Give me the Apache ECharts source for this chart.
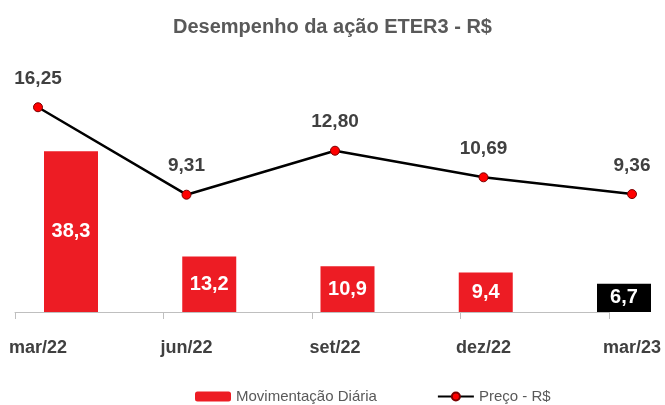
<!DOCTYPE html>
<html>
<head>
<meta charset="utf-8">
<script src="https://cdn.jsdelivr.net/npm/echarts@6/dist/echarts.min.js"></script>
<style>
  html, body { margin: 0; padding: 0; background: #fff; }
  #chart { width: 665px; height: 405px; }
</style>
</head>
<body>
<div id="chart"></div>
<script>
let periods = ["mar/22", "jun/22", "set/22", "dez/22", "mar/23"]
let movimentacao = [38.3, 13.2, 10.9, 9.4, 6.7]
let preco = [16.25, 9.31, 12.80, 10.69, 9.36]

// same bottom/top for all grids
let gTop = 60
let gBottom = 93

function fmt(v, d) {
  return Number(v).toFixed(d).replace(".", ",")
}

let myChart = echarts.init(document.getElementById("chart"))
let last = movimentacao.length - 1
let barData = movimentacao.map(function (v, i) {
  // last quarter highlighted in black
  return i === last ? { value: v, itemStyle: { color: "#000000" } } : v
})

let option = {
  animation: false,
  textStyle: { fontFamily: "Liberation Sans, Arial, sans-serif" },
  title: {
    text: "Desempenho da ação ETER3 - R$",
    left: "center",
    top: 12,
    textStyle: { color: "#595959", fontSize: 20, fontWeight: "bold" }
  },
  legend: {
    left: 190,
    top: 384,
    itemWidth: 36,
    itemHeight: 10,
    itemGap: 60,
    textStyle: { color: "#595959", fontSize: 15 },
    data: ["Movimentação Diária", "Preço - R$"]
  },
  grid: [
    // line + labels
    { left: 38, right: 33, top: gTop, bottom: gBottom },
    // bars
    { left: 71, right: 41, top: gTop, bottom: gBottom },
    // axis line with ticks
    { left: 15, right: 56, top: gTop, bottom: gBottom }
  ],
  xAxis: [
    {
      gridIndex: 0,
      type: "category",
      data: periods,
      boundaryGap: false,
      axisLine: { show: false },
      axisTick: { show: false },
      axisLabel: { color: "#404040", fontSize: 18, fontWeight: "bold", margin: 27 }
    },
    {
      gridIndex: 1,
      type: "category",
      data: periods,
      boundaryGap: false,
      show: false
    },
    {
      gridIndex: 2,
      type: "category",
      data: periods,
      boundaryGap: false,
      axisLine: { show: true, lineStyle: { color: "#bfbfbf", width: 1 } },
      axisTick: { show: true, length: 7, lineStyle: { color: "#bfbfbf" } },
      axisLabel: { show: false }
    }
  ],
  yAxis: [
    { gridIndex: 0, type: "value", min: 0, max: 20, show: false },
    { gridIndex: 1, type: "value", min: 0, max: 60, show: false },
    { gridIndex: 2, type: "value", min: 0, max: 1, show: false }
  ],
  series: [
    {
      name: "Movimentação Diária",
      type: "bar",
      xAxisIndex: 1,
      yAxisIndex: 1,
      barWidth: 54,
      itemStyle: { color: "#ED1C24" },
      label: {
        show: true,
        position: "inside",
        color: "#ffffff",
        fontSize: 20,
        fontWeight: "bold",
        formatter: function (p) { return fmt(p.value, 1) }
      },
      data: barData
    },
    {
      name: "Preço - R$",
      type: "line",
      xAxisIndex: 0,
      yAxisIndex: 0,
      z: 5,
      symbol: "circle",
      symbolSize: 9,
      lineStyle: { color: "#000000", width: 2.5 },
      itemStyle: { color: "#ff0000", borderColor: "#7a0000", borderWidth: 1 },
      label: {
        show: true,
        position: "top",
        distance: 14,
        color: "#404040",
        fontSize: 19,
        fontWeight: "bold",
        formatter: function (p) { return fmt(p.value, 2) }
      },
      data: preco
    }
  ]
}
myChart.setOption(option)
</script>
</body>
</html>
